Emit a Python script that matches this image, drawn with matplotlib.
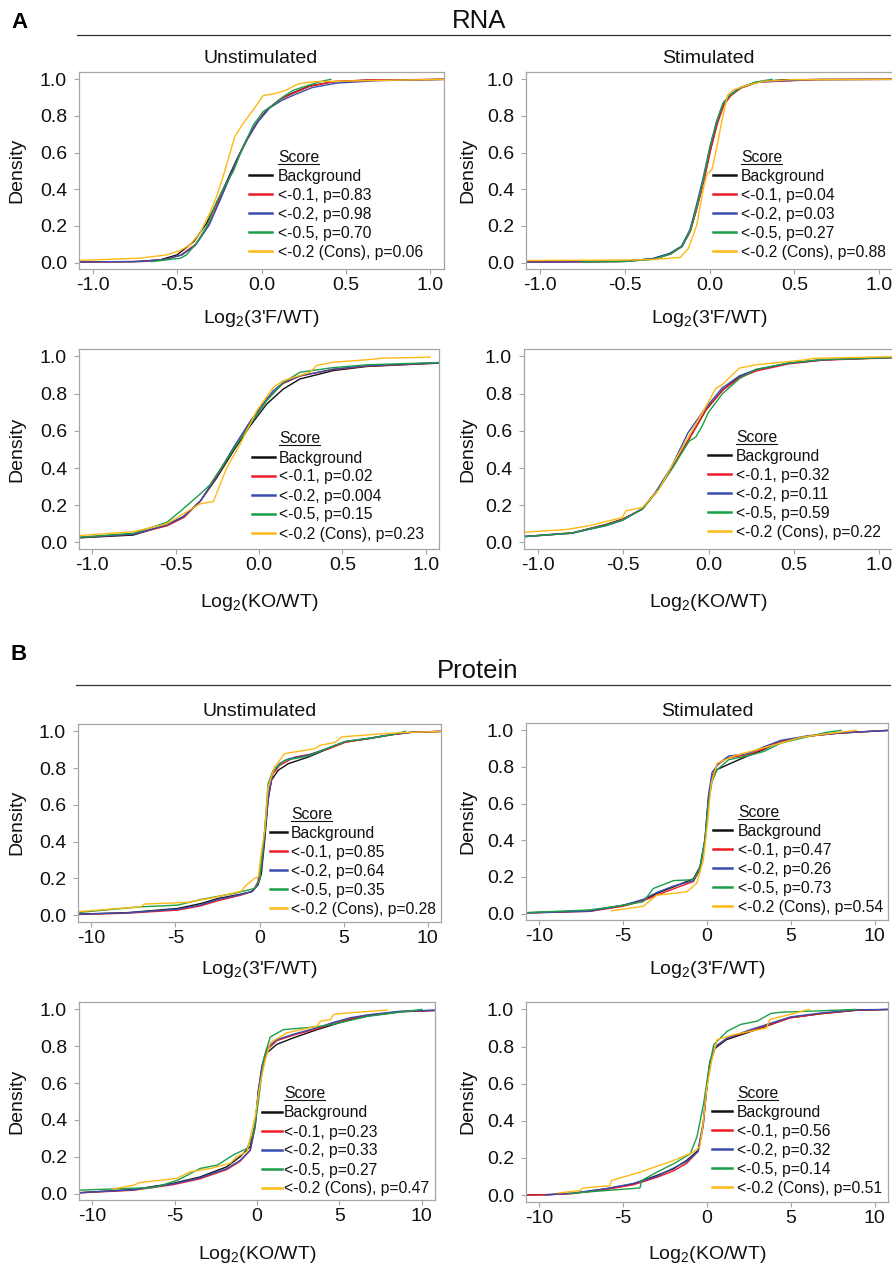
import matplotlib
matplotlib.use("Agg")
import matplotlib.pyplot as plt
from matplotlib.lines import Line2D

plt.rcParams['font.family'] = ['Liberation Sans', 'DejaVu Sans']
plt.rcParams['mathtext.fontset'] = 'custom'
plt.rcParams['mathtext.rm'] = 'Liberation Sans'
plt.rcParams['mathtext.it'] = 'Liberation Sans:italic'

# ---- data: (log2 ratio, cumulative fraction) ----
# A, 3'F/WT, unstimulated
a1_bg = [(-1.10, 0.004), (-0.76, 0.005), (-0.60, 0.015), (-0.50, 0.042), (-0.40, 0.115), (-0.325, 0.215),
         (-0.266, 0.324), (-0.207, 0.44), (-0.148, 0.56), (-0.089, 0.67), (-0.03, 0.76), (0.03, 0.833),
         (0.108, 0.89), (0.187, 0.927), (0.286, 0.964), (0.424, 0.987), (0.62, 0.995), (1.10, 1.0)]
a1_m01 = [(-1.10, 0.003), (-0.70, 0.006), (-0.58, 0.016), (-0.48, 0.04), (-0.39, 0.10), (-0.31, 0.21),
          (-0.255, 0.33), (-0.20, 0.44), (-0.14, 0.57), (-0.085, 0.67), (-0.025, 0.765), (0.04, 0.84),
          (0.11, 0.89), (0.19, 0.925), (0.29, 0.963), (0.43, 0.988), (0.62, 0.996), (1.10, 1.0)]
a1_m02 = [(-1.10, 0.003), (-0.72, 0.006), (-0.57, 0.017), (-0.47, 0.042), (-0.39, 0.095), (-0.31, 0.205),
          (-0.25, 0.33), (-0.195, 0.45), (-0.135, 0.58), (-0.08, 0.68), (-0.02, 0.77), (0.05, 0.845),
          (0.12, 0.885), (0.20, 0.918), (0.30, 0.955), (0.45, 0.98), (0.70, 0.993), (1.10, 1.0)]
a1_m05 = [(-0.65, 0.005), (-0.48, 0.024), (-0.444, 0.042), (-0.385, 0.105), (-0.325, 0.196), (-0.266, 0.33),
          (-0.21, 0.43), (-0.168, 0.496), (-0.108, 0.633), (-0.049, 0.75), (0.01, 0.824), (0.069, 0.86),
          (0.128, 0.905), (0.187, 0.94), (0.266, 0.964), (0.345, 0.987), (0.41, 1.0)]
a1_cons = [(-1.10, 0.011), (-0.72, 0.024), (-0.562, 0.042), (-0.483, 0.065), (-0.424, 0.096), (-0.365, 0.16),
           (-0.306, 0.27), (-0.266, 0.36), (-0.227, 0.47), (-0.187, 0.596), (-0.158, 0.687), (-0.108, 0.76),
           (-0.049, 0.833), (0.01, 0.911), (0.089, 0.924), (0.148, 0.942), (0.217, 0.975), (0.306, 0.987),
           (0.82, 0.996), (1.10, 1.0)]
a1_p = ['0.83', '0.98', '0.70', '0.06']

# A, 3'F/WT, stimulated
a2_bg = [(-1.10, 0.004), (-0.506, 0.007), (-0.33, 0.022), (-0.231, 0.05), (-0.163, 0.086), (-0.114, 0.169),
         (-0.075, 0.297), (-0.035, 0.444), (0.004, 0.609), (0.043, 0.756), (0.082, 0.866), (0.122, 0.912),
         (0.18, 0.954), (0.278, 0.985), (0.435, 0.998), (1.10, 1.0)]
a2_m01 = [(-1.10, 0.003), (-0.50, 0.006), (-0.32, 0.02), (-0.225, 0.048), (-0.16, 0.09), (-0.11, 0.18),
          (-0.07, 0.31), (-0.03, 0.46), (0.008, 0.62), (0.047, 0.76), (0.085, 0.86), (0.125, 0.91),
          (0.185, 0.952), (0.29, 0.985), (0.65, 0.999), (1.10, 1.0)]
a2_m02 = [(-1.10, 0.002), (-0.52, 0.006), (-0.34, 0.02), (-0.235, 0.05), (-0.165, 0.09), (-0.115, 0.18),
          (-0.078, 0.31), (-0.038, 0.46), (0.0, 0.62), (0.04, 0.765), (0.08, 0.87), (0.12, 0.915),
          (0.18, 0.955), (0.28, 0.985), (0.60, 0.999), (1.10, 1.0)]
a2_m05 = [(-0.75, 0.003), (-0.50, 0.006), (-0.33, 0.018), (-0.23, 0.046), (-0.16, 0.09), (-0.112, 0.18),
          (-0.073, 0.31), (-0.035, 0.46), (0.002, 0.63), (0.042, 0.77), (0.08, 0.868), (0.12, 0.912),
          (0.18, 0.952), (0.27, 0.985), (0.367, 1.0)]
a2_cons = [(-1.10, 0.011), (-0.50, 0.014), (-0.33, 0.017), (-0.173, 0.028), (-0.124, 0.077), (-0.075, 0.205),
           (-0.035, 0.407), (-0.016, 0.48), (0.014, 0.508), (0.043, 0.627), (0.073, 0.774), (0.106, 0.912),
           (0.141, 0.943), (0.22, 0.967), (0.318, 0.989), (0.475, 0.998), (1.10, 1.0)]
a2_p = ['0.04', '0.03', '0.27', '0.88']

# A, KO/WT, unstimulated
a3_bg = [(-1.10, 0.024), (-0.754, 0.04), (-0.554, 0.094), (-0.454, 0.139), (-0.354, 0.22), (-0.254, 0.347),
         (-0.154, 0.491), (-0.054, 0.626), (0.046, 0.744), (0.146, 0.825), (0.246, 0.879), (0.446, 0.924),
         (0.646, 0.946), (1.10, 0.965)]
a3_m01 = [(-1.10, 0.025), (-0.75, 0.045), (-0.55, 0.09), (-0.45, 0.135), (-0.35, 0.225), (-0.25, 0.36),
          (-0.15, 0.51), (-0.05, 0.65), (0.05, 0.775), (0.146, 0.855), (0.246, 0.895), (0.446, 0.93),
          (0.646, 0.948), (1.10, 0.966)]
a3_m02 = [(-1.10, 0.026), (-0.75, 0.045), (-0.55, 0.095), (-0.45, 0.14), (-0.35, 0.225), (-0.25, 0.365),
          (-0.15, 0.515), (-0.05, 0.655), (0.086, 0.816), (0.146, 0.86), (0.246, 0.895), (0.446, 0.932),
          (0.646, 0.95), (1.10, 0.967)]
a3_m05 = [(-1.10, 0.027), (-0.75, 0.05), (-0.554, 0.108), (-0.474, 0.166), (-0.354, 0.26), (-0.294, 0.31),
          (-0.154, 0.50), (-0.05, 0.64), (0.046, 0.762), (0.146, 0.86), (0.246, 0.915), (0.446, 0.94),
          (0.646, 0.955), (1.10, 0.968)]
a3_cons = [(-1.10, 0.036), (-0.754, 0.058), (-0.554, 0.10), (-0.354, 0.208), (-0.274, 0.22), (-0.194, 0.40),
           (-0.114, 0.527), (-0.014, 0.708), (0.086, 0.834), (0.146, 0.87), (0.306, 0.915), (0.346, 0.951),
           (0.446, 0.969), (0.646, 0.982), (0.746, 0.991), (1.026, 0.996)]
a3_p = ['0.02', '0.004', '0.15', '0.23']

# A, KO/WT, stimulated
a4_bg = [(-1.10, 0.031), (-0.797, 0.052), (-0.60, 0.097), (-0.504, 0.125), (-0.387, 0.179), (-0.309, 0.269),
         (-0.211, 0.404), (-0.113, 0.558), (-0.016, 0.711), (0.082, 0.819), (0.18, 0.892), (0.277, 0.928),
         (0.473, 0.964), (0.668, 0.982), (1.10, 0.995)]
a4_m01 = [(-1.10, 0.03), (-0.80, 0.05), (-0.60, 0.095), (-0.50, 0.125), (-0.39, 0.18), (-0.305, 0.27),
          (-0.205, 0.41), (-0.105, 0.57), (-0.01, 0.72), (0.085, 0.82), (0.18, 0.885), (0.28, 0.922),
          (0.47, 0.96), (0.67, 0.98), (1.10, 0.994)]
a4_m02 = [(-1.10, 0.03), (-0.80, 0.05), (-0.60, 0.09), (-0.50, 0.12), (-0.39, 0.18), (-0.31, 0.27),
          (-0.215, 0.41), (-0.12, 0.59), (-0.02, 0.72), (0.08, 0.83), (0.18, 0.895), (0.28, 0.93),
          (0.47, 0.963), (0.67, 0.982), (1.10, 0.995)]
a4_m05 = [(-1.10, 0.03), (-0.80, 0.05), (-0.60, 0.093), (-0.50, 0.122), (-0.39, 0.178), (-0.305, 0.27),
          (-0.205, 0.41), (-0.113, 0.545), (-0.074, 0.567), (-0.035, 0.63), (0.0, 0.70), (0.082, 0.80),
          (0.18, 0.88), (0.277, 0.93), (0.473, 0.966), (0.668, 0.983), (1.10, 0.995)]
a4_cons = [(-1.10, 0.054), (-0.83, 0.07), (-0.70, 0.09), (-0.504, 0.134), (-0.484, 0.17), (-0.387, 0.188),
           (-0.29, 0.285), (-0.21, 0.42), (-0.113, 0.575), (-0.016, 0.73), (0.043, 0.829), (0.082, 0.85),
           (0.18, 0.937), (0.277, 0.955), (0.57, 0.982), (0.62, 0.99), (1.10, 0.999)]
a4_p = ['0.32', '0.11', '0.59', '0.22']

# B, 3'F/WT, unstimulated
b1_bg = [(-10.9, 0.005), (-7.87, 0.013), (-4.87, 0.036), (-3.48, 0.063), (-2.48, 0.09), (-1.09, 0.114),
         (-0.49, 0.127), (-0.09, 0.163), (0.11, 0.226), (0.31, 0.408), (0.51, 0.625), (0.71, 0.734),
         (1.11, 0.788), (1.71, 0.824), (2.9, 0.86), (4.1, 0.906), (5.1, 0.942), (6.5, 0.96), (7.9, 0.982),
         (9.08, 0.995), (10.9, 1.0)]
b1_m01 = [(-10.9, 0.003), (-7.9, 0.01), (-4.87, 0.027), (-3.5, 0.05), (-2.48, 0.078), (-1.09, 0.109),
          (-0.4, 0.13), (-0.1, 0.18), (0.15, 0.3), (0.35, 0.5), (0.55, 0.66), (0.8, 0.77), (1.2, 0.815),
          (2.1, 0.86), (3.0, 0.875), (4.1, 0.905), (5.1, 0.94), (6.5, 0.962), (7.9, 0.982), (9.1, 0.996),
          (10.9, 1.0)]
b1_m02 = [(-10.9, 0.004), (-7.9, 0.012), (-4.87, 0.032), (-3.5, 0.055), (-2.48, 0.085), (-1.09, 0.112),
          (-0.4, 0.13), (-0.08, 0.17), (0.15, 0.28), (0.35, 0.48), (0.55, 0.66), (0.8, 0.78), (1.2, 0.825),
          (1.7, 0.85), (2.9, 0.87), (4.1, 0.91), (5.1, 0.945), (6.5, 0.962), (7.9, 0.984), (9.1, 0.996),
          (10.9, 1.0)]
b1_m05 = [(-10.9, 0.013), (-7.07, 0.045), (-4.87, 0.054), (-3.48, 0.085), (-1.5, 0.118), (-0.29, 0.145),
          (0.01, 0.19), (0.31, 0.46), (0.51, 0.715), (0.81, 0.788), (1.5, 0.842), (2.9, 0.865), (4.1, 0.91),
          (5.1, 0.945), (6.5, 0.962), (7.9, 0.982), (8.68, 1.0)]
b1_cons = [(-10.9, 0.018), (-7.07, 0.045), (-6.87, 0.06), (-4.28, 0.069), (-2.68, 0.096), (-1.09, 0.13),
           (-0.79, 0.163), (-0.29, 0.2), (-0.05, 0.21), (0.07, 0.317), (0.31, 0.46), (0.51, 0.697),
           (0.9, 0.806), (1.5, 0.879), (3.3, 0.906), (3.6, 0.924), (4.5, 0.94), (4.9, 0.97), (6.9, 0.984),
           (8.5, 0.993), (10.9, 1.0)]
b1_p = ['0.85', '0.64', '0.35', '0.28']

# B, 3'F/WT, stimulated
b2_bg = [(-10.9, 0.004), (-6.98, 0.015), (-4.99, 0.046), (-3.8, 0.073), (-3.0, 0.11), (-2.0, 0.146),
         (-0.81, 0.19), (-0.42, 0.255), (-0.12, 0.40), (0.08, 0.62), (0.28, 0.73), (0.58, 0.785),
         (1.17, 0.81), (2.37, 0.858), (3.36, 0.894), (4.36, 0.94), (5.95, 0.967), (7.9, 0.985), (10.9, 1.0)]
b2_m01 = [(-10.9, 0.003), (-7.0, 0.012), (-5.0, 0.04), (-3.8, 0.07), (-3.0, 0.1), (-2.0, 0.135),
          (-0.81, 0.175), (-0.42, 0.24), (-0.12, 0.39), (0.1, 0.62), (0.3, 0.75), (0.6, 0.81), (1.2, 0.85),
          (2.4, 0.865), (3.4, 0.9), (4.4, 0.94), (6.0, 0.968), (7.9, 0.985), (10.9, 1.0)]
b2_m02 = [(-10.9, 0.003), (-7.0, 0.013), (-5.0, 0.045), (-3.8, 0.078), (-3.0, 0.115), (-2.0, 0.15),
          (-0.81, 0.18), (-0.42, 0.25), (-0.12, 0.41), (0.08, 0.64), (0.3, 0.77), (0.7, 0.82), (1.3, 0.86),
          (2.4, 0.872), (3.4, 0.91), (4.4, 0.945), (6.0, 0.97), (7.9, 0.986), (10.9, 1.0)]
b2_m05 = [(-10.9, 0.005), (-7.0, 0.02), (-5.0, 0.045), (-3.8, 0.065), (-3.2, 0.137), (-2.0, 0.18),
          (-0.81, 0.185), (-0.42, 0.25), (-0.12, 0.40), (0.08, 0.6), (0.3, 0.72), (0.6, 0.785), (1.3, 0.84),
          (2.4, 0.86), (3.4, 0.885), (4.4, 0.93), (6.0, 0.965), (7.2, 0.99), (8.0, 1.0)]
b2_cons = [(-5.69, 0.015), (-3.8, 0.04), (-3.0, 0.10), (-1.21, 0.119), (-0.62, 0.164), (-0.22, 0.29),
           (0.05, 0.51), (0.25, 0.71), (0.6, 0.82), (1.6, 0.86), (3.6, 0.91), (5.6, 0.962), (7.5, 0.985),
           (8.9, 1.0)]
b2_p = ['0.47', '0.26', '0.73', '0.54']

# B, KO/WT, unstimulated
b3_bg = [(-10.9, 0.004), (-7.5, 0.022), (-5.1, 0.055), (-3.46, 0.09), (-1.84, 0.145), (-1.03, 0.2),
         (-0.41, 0.255), (-0.11, 0.38), (0.09, 0.564), (0.29, 0.673), (0.6, 0.764), (1.2, 0.81), (2.2, 0.845),
         (3.65, 0.89), (4.66, 0.918), (5.68, 0.945), (6.7, 0.964), (8.7, 0.987), (10.9, 0.994)]
b3_m01 = [(-10.9, 0.003), (-7.5, 0.018), (-5.1, 0.048), (-3.46, 0.08), (-1.84, 0.13), (-1.03, 0.175),
          (-0.41, 0.235), (-0.11, 0.36), (0.09, 0.55), (0.29, 0.68), (0.6, 0.78), (1.2, 0.83), (2.2, 0.86),
          (3.65, 0.895), (4.66, 0.925), (5.68, 0.95), (6.7, 0.968), (8.7, 0.988), (10.9, 0.995)]
b3_m02 = [(-10.9, 0.004), (-7.5, 0.02), (-5.1, 0.052), (-3.46, 0.085), (-1.84, 0.135), (-1.03, 0.18),
          (-0.41, 0.235), (-0.11, 0.37), (0.09, 0.56), (0.29, 0.69), (0.6, 0.79), (1.2, 0.835), (2.2, 0.865),
          (3.65, 0.9), (4.66, 0.93), (5.68, 0.955), (6.7, 0.97), (8.7, 0.99), (10.9, 0.996)]
b3_m05 = [(-10.9, 0.018), (-6.2, 0.033), (-4.8, 0.073), (-3.46, 0.136), (-2.4, 0.155), (-1.43, 0.21),
          (-0.61, 0.245), (-0.2, 0.33), (0.1, 0.51), (0.4, 0.727), (0.8, 0.85), (1.6, 0.89), (3.6, 0.905),
          (4.66, 0.92), (6.7, 0.962), (10.0, 1.0)]
b3_cons = [(-8.74, 0.025), (-7.5, 0.045), (-7.1, 0.06), (-4.87, 0.082), (-4.07, 0.118), (-2.85, 0.136),
           (-1.63, 0.164), (-1.23, 0.2), (-0.61, 0.227), (-0.11, 0.418), (0.2, 0.6), (0.5, 0.727),
           (0.81, 0.82), (1.83, 0.873), (3.65, 0.909), (3.85, 0.936), (4.46, 0.945), (4.66, 0.973),
           (5.68, 0.982), (7.9, 0.996)]
b3_p = ['0.23', '0.33', '0.27', '0.47']

# B, KO/WT, stimulated
b4_bg = [(-10.9, 0.0), (-9.6, 0.002), (-7.97, 0.009), (-6.0, 0.033), (-4.4, 0.06), (-3.0, 0.105), (-2.0, 0.141),
         (-1.22, 0.186), (-0.53, 0.24), (-0.23, 0.385), (-0.03, 0.566), (0.17, 0.71), (0.47, 0.79),
         (1.16, 0.837), (2.35, 0.873), (3.55, 0.91), (4.94, 0.955), (6.9, 0.978), (8.9, 0.995), (10.9, 1.0)]
b4_m01 = [(-10.9, 0.0), (-9.6, 0.001), (-8.0, 0.008), (-6.0, 0.03), (-4.4, 0.055), (-3.0, 0.095), (-2.0, 0.13),
          (-1.22, 0.17), (-0.53, 0.235), (-0.23, 0.37), (-0.03, 0.56), (0.17, 0.71), (0.5, 0.8), (1.2, 0.845),
          (2.4, 0.88), (3.6, 0.915), (5.0, 0.955), (6.9, 0.978), (8.9, 0.996), (10.9, 1.0)]
b4_m02 = [(-9.6, 0.0), (-8.0, 0.01), (-6.0, 0.035), (-4.4, 0.062), (-3.0, 0.1), (-2.0, 0.145), (-1.22, 0.18),
          (-0.53, 0.235), (-0.23, 0.38), (-0.03, 0.57), (0.17, 0.72), (0.5, 0.8), (1.2, 0.845), (2.4, 0.885),
          (3.6, 0.92), (5.0, 0.96), (6.9, 0.982), (8.9, 0.998), (10.9, 1.0)]
b4_m05 = [(-8.2, 0.009), (-4.0, 0.038), (-3.9, 0.078), (-3.0, 0.123), (-2.0, 0.168), (-1.0, 0.222),
          (-0.6, 0.313), (-0.2, 0.494), (0.1, 0.675), (0.4, 0.81), (1.2, 0.882), (2.0, 0.919), (3.0, 0.937),
          (3.8, 0.978), (4.4, 0.985), (6.0, 0.99), (8.9, 1.0)]
b4_cons = [(-8.87, 0.011), (-7.6, 0.024), (-7.4, 0.038), (-5.8, 0.05), (-5.7, 0.078), (-4.0, 0.123),
           (-2.0, 0.186), (-0.82, 0.231), (-0.43, 0.26), (-0.23, 0.385), (-0.03, 0.566), (0.27, 0.72),
           (0.6, 0.837), (1.6, 0.864), (3.55, 0.9), (3.75, 0.946), (4.94, 0.973), (6.1, 1.0)]
b4_p = ['0.56', '0.32', '0.14', '0.51']

thresholds = ['<-0.1', '<-0.2', '<-0.5', '<-0.2 (Cons)']
colors = ['#111111', '#ee1c25', '#3a4cae', '#1c9e48', '#fdb913']

W, H = 892, 1264
fig = plt.figure(figsize=(W / 100, H / 100), dpi=100)


def fx(x):
    return x / W


def fy(y):
    return 1 - y / H


# panel layout in pixels: box (left, top, right, bottom), legend (text x, "Score" y, handle x0, x1)
panels = [
    (a1_bg, a1_m01, a1_m02, a1_m05, a1_cons, a1_p, (79, 72, 444, 269), 'rna', "3'F", 323, (278, 156, 249, 272)),
    (a2_bg, a2_m01, a2_m02, a2_m05, a2_cons, a2_p, (526, 72, 893, 269), 'rna', "3'F", 323, (741, 156, 713, 736)),
    (a3_bg, a3_m01, a3_m02, a3_m05, a3_cons, a3_p, (79, 349, 439, 549), 'rna', 'KO', 607, (279, 437.5, 252, 275)),
    (a4_bg, a4_m01, a4_m02, a4_m05, a4_cons, a4_p, (524, 349, 893, 549), 'rna', 'KO', 607, (736, 436, 708, 731)),
    (b1_bg, b1_m01, b1_m02, b1_m05, b1_cons, b1_p, (78, 724, 441, 921.5), 'prot', "3'F", 974, (291, 813, 270, 287)),
    (b2_bg, b2_m01, b2_m02, b2_m05, b2_cons, b2_p, (526, 723, 888, 920), 'prot', "3'F", 974, (738, 811, 713, 732)),
    (b3_bg, b3_m01, b3_m02, b3_m05, b3_cons, b3_p, (79, 1002, 435, 1200), 'prot', 'KO', 1259, (284, 1092.5, 262, 282)),
    (b4_bg, b4_m01, b4_m02, b4_m05, b4_cons, b4_p, (526, 1002, 888, 1201.5), 'prot', 'KO', 1259, (737, 1092, 712, 732)),
]

spine_col = '#a6a6a6'
for bg, m01, m02, m05, cons, pvals, box, kind, num, lab_base, leg in panels:
    l, t, r, b = box
    ax = fig.add_axes([fx(l), fy(b), (r - l) / W, (b - t) / H])
    for pts, c in zip([bg, m01, m02, m05, cons], colors):
        ax.plot([p[0] for p in pts], [p[1] for p in pts], color=c, lw=1.0)
    if kind == 'rna':
        ax.set_xlim(-1.08, 1.08)
        ax.set_xticks([-1.0, -0.5, 0.0, 0.5, 1.0])
        ax.set_xticklabels(['-1.0', '-0.5', '0.0', '0.5', '1.0'])
    else:
        ax.set_xlim(-10.8, 10.8)
        ax.set_xticks([-10, -5, 0, 5, 10])
        ax.set_xticklabels(['-10', '-5', '0', '5', '10'])
    ax.set_ylim(-0.035, 1.04)
    ax.set_yticks([0, 0.2, 0.4, 0.6, 0.8, 1.0])
    ax.set_yticklabels(['0.0', '0.2', '0.4', '0.6', '0.8', '1.0'])
    for s in ax.spines.values():
        s.set_color(spine_col)
        s.set_linewidth(0.9)
    ax.tick_params(axis='both', direction='out', length=3.6, width=0.8, color=spine_col,
                   labelsize=14, labelcolor='#111111')
    ax.tick_params(axis='x', pad=2.5)
    ax.tick_params(axis='y', pad=5.0)

    ax.set_xlabel('Log$_2$(' + num + '/WT)', fontsize=14, color='#111111')
    ax.xaxis.label.set_va('baseline')
    ax.xaxis.set_label_coords(0.5, (b - lab_base) / (b - t))
    ax.set_ylabel('Density', fontsize=14, color='#111111')
    ax.yaxis.label.set_va('center')
    yl_x = 17 if l < 300 else 468
    ax.yaxis.set_label_coords((yl_x - l) / (r - l), 0.5)

    # legend
    tx, sy, hx0, hx1 = leg
    fig.text(fx(tx), fy(sy + 6), 'Score', fontsize=11.3, va='baseline', ha='left', color='#111111')
    fig.add_artist(Line2D([fx(tx), fx(tx + 41)], [fy(sy + 7.8)] * 2, color='#111111', lw=0.8))
    labels = ['Background'] + [th + ', p=' + pv for th, pv in zip(thresholds, pvals)]
    for i, (lab, c) in enumerate(zip(labels, colors)):
        yy = sy + 19 * (i + 1)
        fig.add_artist(Line2D([fx(hx0), fx(hx1)], [fy(yy)] * 2, color=c, lw=1.8))
        fig.text(fx(tx), fy(yy + 6), lab, fontsize=11.3, va='baseline', ha='left', color='#111111')

# subtitles
for cx, y, s in [(261, 63.3, 'Unstimulated'), (708, 63.3, 'Stimulated'),
                 (260, 716, 'Unstimulated'), (707, 716, 'Stimulated')]:
    fig.text(fx(cx), fy(y), s, fontsize=14, ha='center', va='baseline', color='#111111')

# section headers
fig.text(fx(11), fy(28.3), 'A', fontsize=16, fontweight='bold', va='baseline')
fig.text(fx(11), fy(660), 'B', fontsize=16, fontweight='bold', va='baseline')
fig.text(fx(479), fy(28.3), 'RNA', fontsize=18.5, ha='center', va='baseline', color='#111111')
fig.text(fx(478), fy(678.3), 'Protein', fontsize=18.5, ha='center', va='baseline', color='#111111')
fig.add_artist(Line2D([fx(77), fx(890)], [fy(35)] * 2, color='#333333', lw=0.9))
fig.add_artist(Line2D([fx(76), fx(890)], [fy(685)] * 2, color='#333333', lw=0.9))

fig.savefig('out.png', dpi=100, facecolor='white')
